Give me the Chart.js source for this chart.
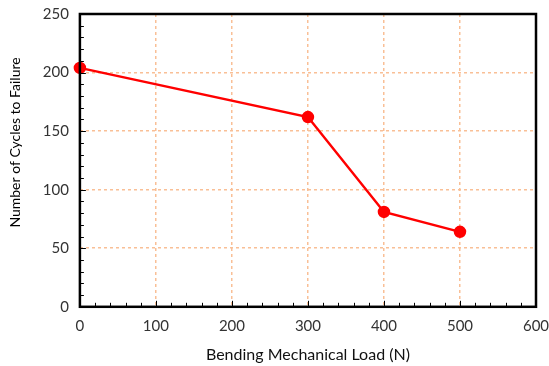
<!DOCTYPE html>
<html><head><meta charset="utf-8">
<script src="https://cdn.jsdelivr.net/npm/chart.js@4/dist/chart.umd.min.js"></script>
<style>html,body{margin:0;padding:0;background:#fff}#wrap{width:549px;height:366px}</style>
</head><body><div id="wrap"><canvas id="c" width="549" height="366"></canvas></div>
<script>
const loads = [0, 300, 400, 500];
const cycles = [204, 162, 81, 64];
const xTicks = [0, 100, 200, 300, 400, 500, 600];
const yTicks = [0, 50, 100, 150, 200, 250];
const xTitle = 'Bending Mechanical Load (N)';
const yTitle = 'Number of Cycles to Failure';

const minorTicks = {
  id: 'minorTicks',
  afterDraw(chart) {
    const {ctx, chartArea: a, scales: {x, y}} = chart;
    ctx.save();
    ctx.strokeStyle = '#000';
    ctx.lineWidth = 1;
    ctx.beginPath();
    for (let v = 0; v <= 600; v += 20) {
      const px = Math.round(x.getPixelForValue(v)) + 0.5;
      ctx.moveTo(px, a.bottom); ctx.lineTo(px, a.bottom - (v % 100 === 0 ? 6 : 4));
    }
    for (let v = 0; v <= 250; v += 10) {
      const py = Math.round(y.getPixelForValue(v)) + 0.5;
      ctx.moveTo(a.left, py); ctx.lineTo(a.left + (v % 50 === 0 ? 6 : 4), py);
    }
    ctx.stroke();
    ctx.lineWidth = 2.5;
    ctx.strokeRect(a.left, a.top, a.right - a.left, a.bottom - a.top);
    ctx.restore();
  }
};

const font = {family: 'Lato, "Open Sans", sans-serif', size: 15};
const titleFontX = {family: 'Lato, "Open Sans", sans-serif', size: 16};
const titleFontY = {family: 'Lato, "Open Sans", sans-serif', size: 14};
const gridOpts = {color: '#f9bf96', lineWidth: 1.5, drawTicks: false};
new Chart(document.getElementById('c'), {
  type: 'scatter',
  data: {datasets: [{
    data: loads.map((v, i) => ({x: v, y: cycles[i]})),
    showLine: true,
    borderColor: '#ff0000',
    backgroundColor: '#ff0000',
    borderWidth: 2.5,
    pointRadius: 5,
    pointHoverRadius: 5,
    clip: false
  }]},
  options: {
    responsive: false,
    animation: false,
    layout: {padding: {top: 0, right: 0, left: 3, bottom: 2}},
    plugins: {legend: {display: false}, tooltip: {enabled: false}},
    scales: {
      x: {
        type: 'linear', min: 0, max: 600,
        afterBuildTicks: s => { s.ticks = xTicks.map(v => ({value: v})); },
        afterFit: s => { s.paddingRight = 13; },
        grid: gridOpts,
        border: {display: false, dash: [3, 3]},
        ticks: {color: '#333', font, padding: 10},
        title: {display: true, text: xTitle, color: '#111', font: titleFontX, padding: {top: 0, bottom: 0}}
      },
      y: {
        type: 'linear', min: 0, max: 250,
        afterBuildTicks: s => { s.ticks = yTicks.map(v => ({value: v})); },
        afterFit: s => { s.paddingTop = 14; },
        grid: gridOpts,
        border: {display: false, dash: [3, 3]},
        ticks: {color: '#333', font, padding: 11},
        title: {display: true, text: '\u00a0'.repeat(10) + yTitle, color: '#000', font: titleFontY, padding: {bottom: 8}}
      }
    }
  },
  plugins: [minorTicks]
});
</script></body></html>
